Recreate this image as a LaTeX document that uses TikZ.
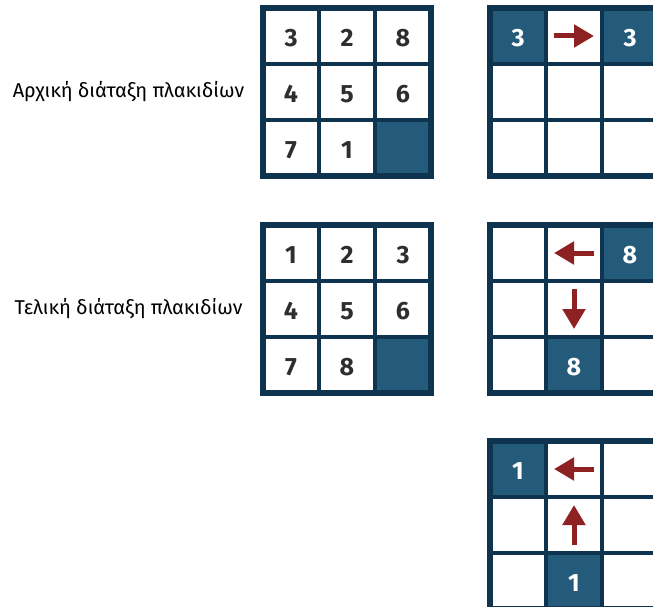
\documentclass[tikz,border=0pt]{standalone}
\usepackage{fontspec}
\setmainfont{Fira Sans}
\usetikzlibrary{arrows.meta}
\definecolor{gridline}{HTML}{0E3450}
\definecolor{tilefill}{HTML}{245B7B}
\definecolor{arrowred}{HTML}{8E2121}
\definecolor{digit}{HTML}{2E2E2E}
\begin{document}
\begin{tikzpicture}[x=1pt,y=-1pt,
  cell/.style={draw=gridline, line width=4.5pt, fill=white, minimum size=56pt,
    inner sep=0pt, outer sep=0pt, text=digit},
  tile/.style={cell, fill=tilefill, text=white},
  num/.style={font=\fontsize{25}{25}\selectfont\bfseries, text=digit, inner sep=0pt, yshift=-2pt},
  wnum/.style={num, text=white},
  frame/.style={draw=gridline, line width=5.5pt},
  mv/.style={draw=arrowred, line width=5pt, -{Triangle[length=20pt,width=22pt]}},
  lbl/.style={font=\fontsize{20}{20}\selectfont, text=black}]
\useasboundingbox (0,0) rectangle (653,607);

% ---- initial configuration
\node[cell] (a11) at (291,36) {};
\node[cell] (a12) at (347,36) {};
\node[cell] (a13) at (403,36) {};
\node[cell] (a21) at (291,92) {};
\node[cell] (a22) at (347,92) {};
\node[cell] (a23) at (403,92) {};
\node[cell] (a31) at (291,148) {};
\node[cell] (a32) at (347,148) {};
\node[tile] (a33) at (403,148) {};
\draw[frame] (a11.north west) rectangle (a33.south east);
\node[num] (na11) at (a11) {3};
\node[num] (na12) at (a12) {2};
\node[num] (na13) at (a13) {8};
\node[num] (na21) at (a21) {4};
\node[num] (na22) at (a22) {5};
\node[num] (na23) at (a23) {6};
\node[num] (na31) at (a31) {7};
\node[num] (na32) at (a32) {1};
\node[lbl] (la) at (128.5,92) {Αρχική διάταξη πλακιδίων};

% ---- final configuration
\node[cell] (b11) at (291,253) {};
\node[cell] (b12) at (347,253) {};
\node[cell] (b13) at (403,253) {};
\node[cell] (b21) at (291,309) {};
\node[cell] (b22) at (347,309) {};
\node[cell] (b23) at (403,309) {};
\node[cell] (b31) at (291,365) {};
\node[cell] (b32) at (347,365) {};
\node[tile] (b33) at (403,365) {};
\draw[frame] (b11.north west) rectangle (b33.south east);
\node[num] (nb11) at (b11) {1};
\node[num] (nb12) at (b12) {2};
\node[num] (nb13) at (b13) {3};
\node[num] (nb21) at (b21) {4};
\node[num] (nb22) at (b22) {5};
\node[num] (nb23) at (b23) {6};
\node[num] (nb31) at (b31) {7};
\node[num] (nb32) at (b32) {8};
\node[lbl] (lb) at (128.5,309) {Τελική διάταξη πλακιδίων};

% ---- move of tile 3
\node[tile] (c11) at (518,36) {};
\node[cell] (c12) at (574,36) {};
\node[tile] (c13) at (630,36) {};
\node[cell] (c21) at (518,92) {};
\node[cell] (c22) at (574,92) {};
\node[cell] (c23) at (630,92) {};
\node[cell] (c31) at (518,148) {};
\node[cell] (c32) at (574,148) {};
\node[cell] (c33) at (630,148) {};
\draw[frame] (c11.north west) rectangle (c33.south east);
\node[wnum] (nc11) at (c11) {3};
\node[wnum] (nc13) at (c13) {3};
\draw[mv] ([xshift=-20pt]c12.center) -- ([xshift=20pt]c12.center);

% ---- move of tile 8
\node[cell] (d11) at (518,253) {};
\node[cell] (d12) at (574,253) {};
\node[tile] (d13) at (630,253) {};
\node[cell] (d21) at (518,309) {};
\node[cell] (d22) at (574,309) {};
\node[cell] (d23) at (630,309) {};
\node[cell] (d31) at (518,365) {};
\node[tile] (d32) at (574,365) {};
\node[cell] (d33) at (630,365) {};
\draw[frame] (d11.north west) rectangle (d33.south east);
\node[wnum] (nd13) at (d13) {8};
\node[wnum] (nd32) at (d32) {8};
\draw[mv] ([xshift=20pt]d12.center) -- ([xshift=-20pt]d12.center);
\draw[mv] ([yshift=20pt]d22.center) -- ([yshift=-20pt]d22.center);

% ---- move of tile 1
\node[tile] (e11) at (518,469) {};
\node[cell] (e12) at (574,469) {};
\node[cell] (e13) at (630,469) {};
\node[cell] (e21) at (518,525) {};
\node[cell] (e22) at (574,525) {};
\node[cell] (e23) at (630,525) {};
\node[cell] (e31) at (518,581) {};
\node[tile] (e32) at (574,581) {};
\node[cell] (e33) at (630,581) {};
\draw[frame] (e11.north west) rectangle (e33.south east);
\node[wnum] (ne11) at (e11) {1};
\node[wnum] (ne32) at (e32) {1};
\draw[mv] ([xshift=20pt]e12.center) -- ([xshift=-20pt]e12.center);
\draw[mv] ([yshift=-20pt]e22.center) -- ([yshift=20pt]e22.center);
\end{tikzpicture}
\end{document}
